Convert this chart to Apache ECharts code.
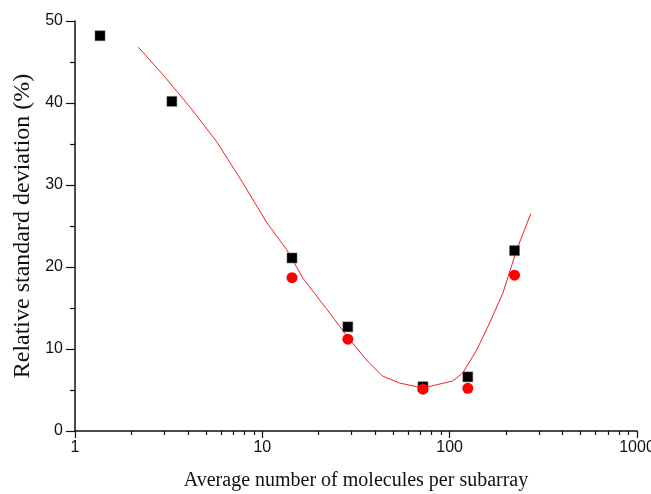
<!DOCTYPE html>
<html><head><meta charset="utf-8">
<script src="https://cdn.jsdelivr.net/npm/echarts@6/dist/echarts.min.js"></script>
<style>html,body{margin:0;padding:0;background:#fff}#c{width:651px;height:494px}</style>
</head><body><div id="c"></div>
<script>
var squareX = [1.36, 3.29, 14.4, 28.6, 72, 125, 222];
var squareY = [48.2, 40.2, 21.1, 12.7, 5.4, 6.6, 22.0];
var circleX = [14.4, 28.6, 72, 125, 222];
var circleY = [18.7, 11.2, 5.1, 5.2, 19.0];
var fitX = [2.18, 2.96, 4.11, 5.70, 7.90, 10.5, 13.5, 16.5, 22, 28.9, 36.0, 43.8, 54.1, 71.8, 103.9, 117.4, 139.4, 163.6, 192.2, 228, 271];
var fitY = [46.8, 43.4, 39.5, 35.3, 30.2, 25.5, 22.1, 18.6, 14.9, 11.3, 8.66, 6.7, 5.85, 5.24, 6.1, 7.07, 9.88, 13.2, 16.8, 22.1, 26.5];
var xMinorTicks = [2,3,4,5,6,7,8,9,20,30,40,50,60,70,80,90,200,300,400,500,600,700,800,900];

function pairs(xs, ys){ return xs.map(function(x,i){ return [x, ys[i]]; }); }

var chart = echarts.init(document.getElementById('c'), null, {renderer:'canvas'});
var axisFont = {fontFamily:'Liberation Sans', fontSize:16, color:'#111'};
chart.setOption({
  animation:false,
  grid:{left:75, right:14, top:21, bottom:63, outerBoundsMode:'none', containLabel:false},
  xAxis:[{
    type:'log', logBase:10, min:1, max:1000,
    name:'Average number of molecules per subarray', nameLocation:'middle', nameGap:40,
    nameTextStyle:{fontFamily:'Liberation Serif', fontSize:20, color:'#111'},
    axisLine:{lineStyle:{color:'#111', width:1.5}},
    axisTick:{show:true, length:7, lineStyle:{color:'#111', width:1.2}},
    axisLabel:Object.assign({margin:9, formatter:function(v){ return String(Math.round(v)); }}, axisFont),
    splitLine:{show:false}
  },{
    type:'log', logBase:10, min:1, max:1000, position:'bottom', gridIndex:0,
    axisLine:{show:false},
    axisTick:{show:true, length:4, customValues:xMinorTicks, lineStyle:{color:'#111', width:1.2}},
    axisLabel:{show:false},
    splitLine:{show:false}
  }],
  yAxis:{
    type:'value', min:0, max:50, interval:10,
    name:'Relative standard deviation (%)', nameLocation:'middle', nameGap:39,
    nameTextStyle:{fontFamily:'Liberation Serif', fontSize:24, color:'#111'},
    axisLine:{show:true, lineStyle:{color:'#111', width:1.5}},
    axisTick:{show:true, length:9, lineStyle:{color:'#111', width:1.2}},
    minorTick:{show:true, splitNumber:2, length:5, lineStyle:{color:'#111', width:1.2}},
    axisLabel:Object.assign({margin:12}, axisFont),
    splitLine:{show:false}
  },
  series:[{
    type:'line', data:pairs(fitX, fitY), showSymbol:false, symbol:'none',
    lineStyle:{color:'#ee2222', width:1}, z:1
  },{
    type:'scatter', data:pairs(squareX, squareY), symbol:'rect', symbolSize:10,
    itemStyle:{color:'#000', borderColor:'#666', borderWidth:0.5, opacity:1}, z:3
  },{
    type:'scatter', data:pairs(circleX, circleY), symbol:'circle', symbolSize:11,
    itemStyle:{color:'#ff0000', opacity:1}, z:4
  }]
});
</script></body></html>
